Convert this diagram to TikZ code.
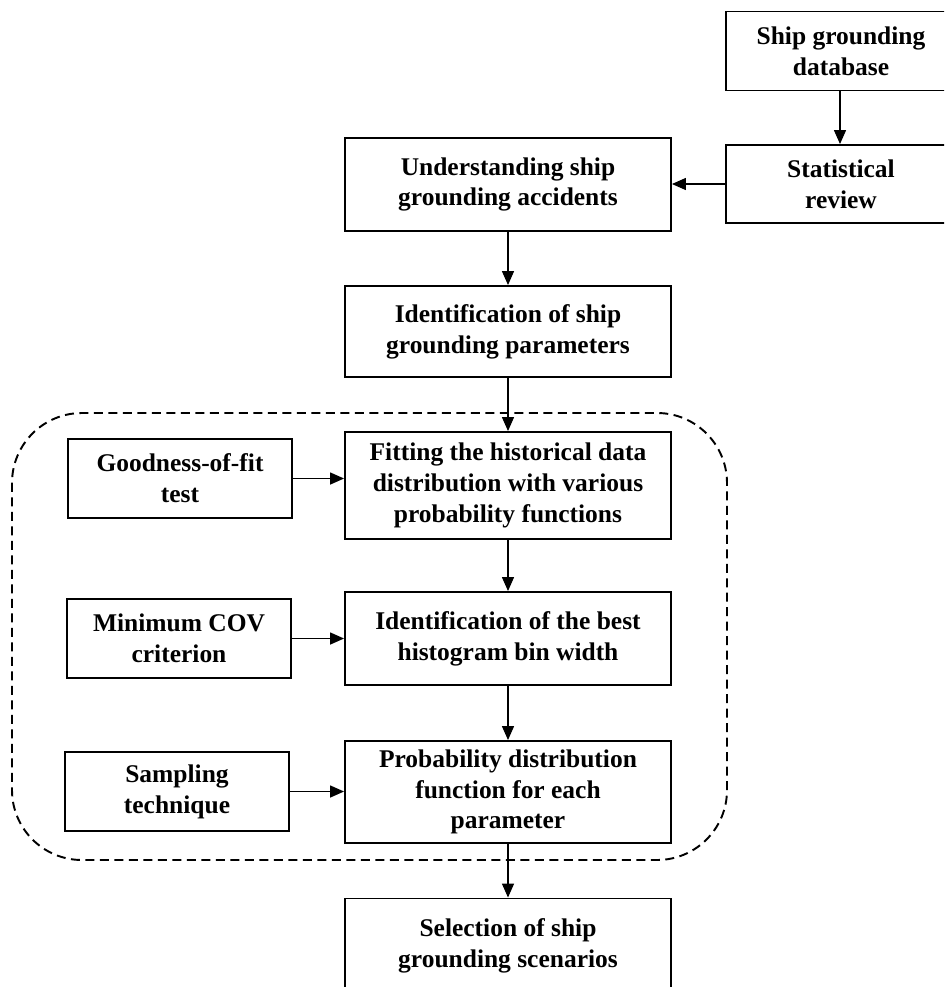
\documentclass[tikz,border=0pt]{standalone}
\usepackage{fontspec}
\setmainfont{Liberation Serif}
\usetikzlibrary{arrows.meta}
\begin{document}
\begin{tikzpicture}[x=0.02cm, y=-0.02cm, font=\bfseries\fontsize{14.5}{17.5}\selectfont]
    \tikzstyle{box_style} = [draw=black, line width=1.1pt, rectangle, align=center, inner sep=2pt]
    \tikzstyle{main_box} = [box_style, minimum width=6.52cm]
    \tikzstyle{side_box} = [box_style, minimum width=4.48cm, minimum height=1.58cm]
    \tikzstyle{arrow_style1} = [-{Triangle[length=0.28cm, width=0.24cm]}, black, line width=0.8pt]
    \tikzstyle{group_style} = [black, line width=1.1pt, dash pattern=on 0.18cm off 0.11cm, rounded corners=1.4cm]

    \useasboundingbox (0,0) rectangle (944,987);
    \clip (0,0) rectangle (944,987);

    \node[box_style, minimum width=4.6cm, minimum height=1.58cm] (db) at (841,51) {Ship grounding\\database};
    \node[box_style, minimum width=4.6cm, minimum height=1.56cm] (stat) at (841,184) {Statistical\\review};

    \node[main_box, minimum height=1.86cm] (und) at (508,184.5) {Understanding ship\\grounding accidents};
    \node[main_box, minimum height=1.82cm] (ident) at (508,331.5) {Identification of ship\\grounding parameters};
    \node[main_box, minimum height=2.14cm] (fit) at (508,485.5) {Fitting the historical data\\distribution with various\\probability functions};
    \node[main_box, minimum height=1.86cm] (best) at (508,638.5) {Identification of the best\\histogram bin width};
    \node[main_box, minimum height=2.04cm] (prob) at (508,792) {Probability distribution\\function for each\\parameter};
    \node[main_box, minimum height=1.9cm] (sel) at (508,946) {Selection of ship\\grounding scenarios};

    \node[side_box] (good) at (180,478.5) {Goodness-of-fit\\test};
    \node[side_box] (mincov) at (179,638.5) {Minimum COV\\criterion};
    \node[side_box] (samp) at (177,791.5) {Sampling\\technique};

    \draw[group_style] (12,413) rectangle (727,860);

    \draw[arrow_style1] (db.south -| 840,0) -- (stat.north -| 840,0);
    \draw[arrow_style1] (stat.west) -- (stat.west -| und.east);
    \draw[arrow_style1] (und) -- (ident);
    \draw[arrow_style1] (ident) -- (fit);
    \draw[arrow_style1] (fit) -- (best);
    \draw[arrow_style1] (best) -- (prob);
    \draw[arrow_style1] (prob) -- (sel);
    \draw[arrow_style1] (good.east) -- (good.east -| fit.west);
    \draw[arrow_style1] (mincov.east) -- (mincov.east -| best.west);
    \draw[arrow_style1] (samp.east) -- (samp.east -| prob.west);
\end{tikzpicture}
\end{document}
